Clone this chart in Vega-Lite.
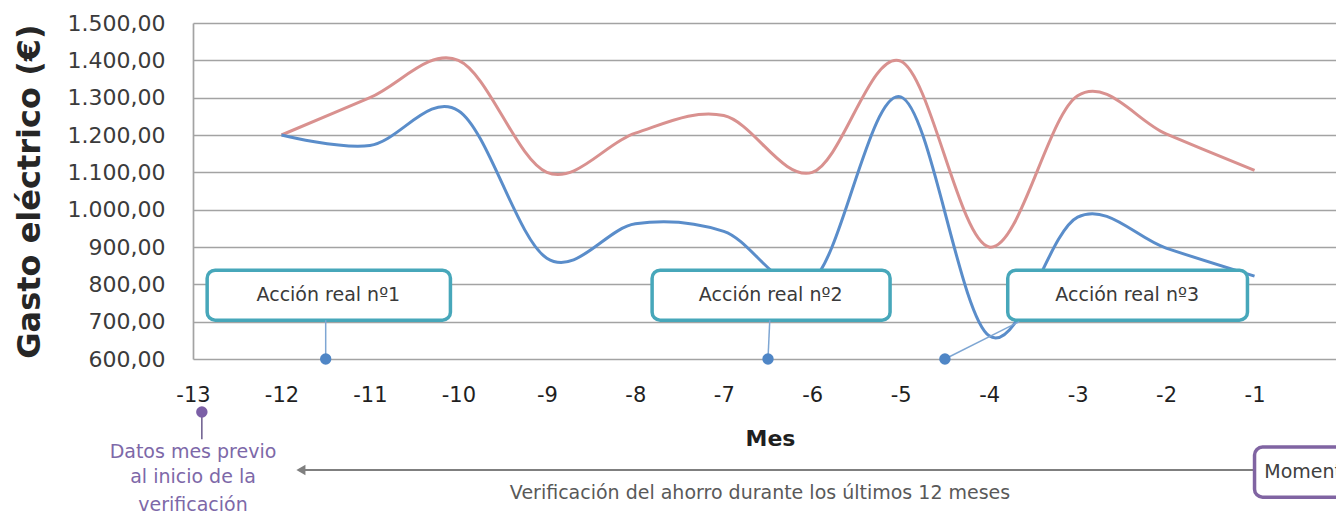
{
  "$schema": "https://vega.github.io/schema/vega-lite/v6.json",
  "width": 1150,
  "height": 336,
  "autosize": {"type": "none"},
  "padding": {"left": 193, "top": 23, "right": 0, "bottom": 153},
  "background": "white",
  "config": {"view": {"stroke": null}, "font": "DejaVu Sans"},
  "datasets": {
    "serie": [
      {"mes": -12, "valor": 1200, "serie": "Sin acciones"},
      {"mes": -11, "valor": 1300, "serie": "Sin acciones"},
      {"mes": -10, "valor": 1400, "serie": "Sin acciones"},
      {"mes": -9, "valor": 1100, "serie": "Sin acciones"},
      {"mes": -8, "valor": 1205, "serie": "Sin acciones"},
      {"mes": -7, "valor": 1252, "serie": "Sin acciones"},
      {"mes": -6, "valor": 1100, "serie": "Sin acciones"},
      {"mes": -5, "valor": 1398, "serie": "Sin acciones"},
      {"mes": -4, "valor": 900, "serie": "Sin acciones"},
      {"mes": -3, "valor": 1305, "serie": "Sin acciones"},
      {"mes": -2, "valor": 1203, "serie": "Sin acciones"},
      {"mes": -1, "valor": 1105, "serie": "Sin acciones"},
      {"mes": -12, "valor": 1200, "serie": "Con acciones"},
      {"mes": -11, "valor": 1172, "serie": "Con acciones"},
      {"mes": -10, "valor": 1265, "serie": "Con acciones"},
      {"mes": -9, "valor": 870, "serie": "Con acciones"},
      {"mes": -8, "valor": 962, "serie": "Con acciones"},
      {"mes": -7, "valor": 942, "serie": "Con acciones"},
      {"mes": -6, "valor": 810, "serie": "Con acciones"},
      {"mes": -5, "valor": 1302, "serie": "Con acciones"},
      {"mes": -4, "valor": 662, "serie": "Con acciones"},
      {"mes": -3, "valor": 980, "serie": "Con acciones"},
      {"mes": -2, "valor": 897, "serie": "Con acciones"},
      {"mes": -1, "valor": 822, "serie": "Con acciones"}
    ],
    "cajas": [
      {"mes": -12.84, "mes2": -10.09, "valor": 838, "valor2": 704},
      {"mes": -7.81, "mes2": -5.12, "valor": 838, "valor2": 704},
      {"mes": -3.79, "mes2": -1.08, "valor": 838, "valor2": 704}
    ],
    "textos_cajas": [
      {"mes": -11.47, "valor": 771, "texto": "Acción real nº1"},
      {"mes": -6.47, "valor": 771, "texto": "Acción real nº2"},
      {"mes": -2.44, "valor": 771, "texto": "Acción real nº3"}
    ],
    "conectores": [
      {"mes": -11.5, "mes2": -11.5, "valor": 704, "valor2": 600},
      {"mes": -6.48, "mes2": -6.5, "valor": 704, "valor2": 600},
      {"mes": -3.66, "mes2": -4.5, "valor": 700, "valor2": 600}
    ],
    "puntos": [
      {"mes": -11.5, "valor": 600},
      {"mes": -6.5, "valor": 600},
      {"mes": -4.5, "valor": 600}
    ],
    "morado_punto": [{"mes": -12.9, "valor": 458}],
    "morado_linea": [{"mes": -12.9, "mes2": -12.9, "valor": 458, "valor2": 385}],
    "morado_texto": [
      {"mes": -13.0, "valor": 351, "texto": "Datos  mes previo"},
      {"mes": -13.0, "valor": 284, "texto": "al inicio de la"},
      {"mes": -13.0, "valor": 209, "texto": "verificación"}
    ],
    "flecha": [{"mes": -11.8, "mes2": -1.0, "valor": 302.6, "valor2": 302.6}],
    "punta": [{"mes": -11.78, "valor": 302.6}],
    "verif": [{"mes": -6.59, "valor": 241, "texto": "Verificación del ahorro durante los últimos 12 meses"}],
    "momento_caja": [{"mes": -1.0, "mes2": 0.6, "valor": 364, "valor2": 230}],
    "momento_texto": [{"mes": -0.89, "valor": 297, "texto": "Momento actual"}]
  },
  "encoding": {
    "x": {
      "field": "mes",
      "type": "quantitative",
      "scale": {"domain": [-13, 0], "nice": false, "zero": false},
      "axis": {
        "values": [-13, -12, -11, -10, -9, -8, -7, -6, -5, -4, -3, -2, -1, 0],
        "labelExpr": "'' + datum.value",
        "title": "Mes",
        "ticks": false,
        "grid": false,
        "domain": false,
        "labelFlush": false,
        "labelFontSize": 21,
        "labelColor": "#1f1f1f",
        "labelPadding": 25,
        "titleFontSize": 22,
        "titleFontWeight": "bold",
        "titleColor": "#1f1f1f",
        "titlePadding": 23,
        "titleX": 577
      }
    },
    "y": {
      "field": "valor",
      "type": "quantitative",
      "scale": {"domain": [600, 1500], "nice": false, "zero": false},
      "axis": {
        "values": [600, 700, 800, 900, 1000, 1100, 1200, 1300, 1400, 1500],
        "labelExpr": "replace(replace(replace(format(datum.value, ',.2f'), ',', '_'), '.', ','), '_', '.')",
        "title": "Gasto eléctrico (€)",
        "ticks": false,
        "grid": true,
        "gridColor": "#a3a3a3",
        "gridWidth": 1.7,
        "domain": true,
        "domainColor": "#a3a3a3",
        "domainWidth": 1.7,
        "labelFontSize": 22,
        "labelColor": "#3b3b3b",
        "labelPadding": 28,
        "titleFontSize": 32,
        "titleFontWeight": "bold",
        "titleColor": "#262626",
        "titleX": -164,
        "titleBaseline": "middle"
      }
    }
  },
  "layer": [
    {
      "data": {"name": "serie"},
      "mark": {"type": "line", "interpolate": "cardinal", "strokeWidth": 3},
      "encoding": {
        "color": {
          "field": "serie",
          "type": "nominal",
          "scale": {"domain": ["Sin acciones", "Con acciones"], "range": ["#d9918f", "#5a8dca"]},
          "legend": null
        }
      }
    },
    {
      "data": {"name": "cajas"},
      "mark": {"type": "rect", "fill": "white", "stroke": "#47a7ba", "strokeWidth": 3.5, "cornerRadius": 8},
      "encoding": {"x2": {"field": "mes2"}, "y2": {"field": "valor2"}}
    },
    {
      "data": {"name": "textos_cajas"},
      "mark": {"type": "text", "fontSize": 19, "color": "#3a3a3a", "align": "center", "baseline": "middle"},
      "encoding": {"text": {"field": "texto"}}
    },
    {
      "data": {"name": "conectores"},
      "mark": {"type": "rule", "color": "#7ea6d3", "strokeWidth": 1.5},
      "encoding": {"x2": {"field": "mes2"}, "y2": {"field": "valor2"}}
    },
    {
      "data": {"name": "puntos"},
      "mark": {"type": "point", "filled": true, "color": "#4f86c6", "size": 130, "opacity": 1},
      "encoding": {}
    },
    {
      "data": {"name": "morado_linea"},
      "mark": {"type": "rule", "color": "#6a5a8c", "strokeWidth": 1.5},
      "encoding": {"x2": {"field": "mes2"}, "y2": {"field": "valor2"}}
    },
    {
      "data": {"name": "morado_punto"},
      "mark": {"type": "point", "filled": true, "color": "#7b5fa6", "size": 130, "opacity": 1},
      "encoding": {}
    },
    {
      "data": {"name": "morado_texto"},
      "mark": {"type": "text", "fontSize": 19, "color": "#7d68a8", "align": "center", "baseline": "middle"},
      "encoding": {"text": {"field": "texto"}}
    },
    {
      "data": {"name": "flecha"},
      "mark": {"type": "rule", "color": "#7f7f7f", "strokeWidth": 2},
      "encoding": {"x2": {"field": "mes2"}, "y2": {"field": "valor2"}}
    },
    {
      "data": {"name": "punta"},
      "mark": {"type": "point", "shape": "triangle-left", "filled": true, "color": "#7f7f7f", "size": 110, "opacity": 1},
      "encoding": {}
    },
    {
      "data": {"name": "verif"},
      "mark": {"type": "text", "fontSize": 19, "color": "#595959", "align": "center", "baseline": "middle"},
      "encoding": {"text": {"field": "texto"}}
    },
    {
      "data": {"name": "momento_caja"},
      "mark": {"type": "rect", "fill": "white", "stroke": "#8064a2", "strokeWidth": 3.5, "cornerRadius": 8},
      "encoding": {"x2": {"field": "mes2"}, "y2": {"field": "valor2"}}
    },
    {
      "data": {"name": "momento_texto"},
      "mark": {"type": "text", "fontSize": 19, "color": "#404040", "align": "left", "baseline": "middle"},
      "encoding": {"text": {"field": "texto"}}
    }
  ]
}
